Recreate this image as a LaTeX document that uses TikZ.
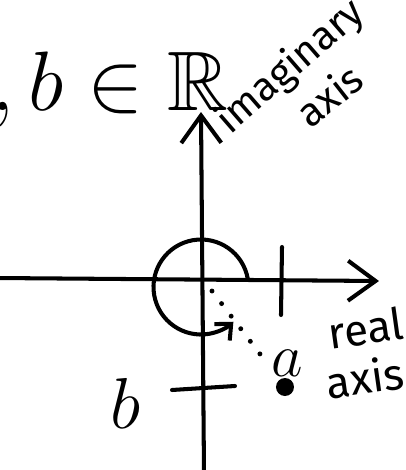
\documentclass[tikz,border=0pt]{standalone}
\usepackage{amsmath,amssymb}
\usepackage{fontspec}
\setsansfont{Fira Sans}
\usetikzlibrary{arrows.meta, positioning}

\begin{document}
\begin{tikzpicture}[line width=2.3pt, line cap=round, line join=round,
  every node/.style={inner sep=0pt},
  axisline/.style={-{Straight Barb[length=5.5mm,width=8mm,line width=2.3pt]}},
  turnarc/.style={-{Straight Barb[length=2.5mm,width=4.5mm,line width=2.3pt]}},
  handlabel/.style={font=\sffamily\fontsize{25}{27}\selectfont},
  slantlabel/.style={font=\sffamily\fontsize{23}{25}\selectfont},
  mathlabel/.style={font=\Huge}]
  \useasboundingbox (-4.02,-3.84) rectangle (4.10,5.56);

  % points of the plane
  \coordinate (O) at (0,0);
  \coordinate (imtop) at (0,3.32);
  \coordinate (imbot) at (0.06,-3.9);
  \coordinate (releft) at (-4.1,0);
  \coordinate (reright) at (3.56,-0.06);
  \coordinate (tickup) at (1.62,0.62);
  \coordinate (tickdn) at (1.6,-0.74);
  \coordinate (bleft) at (-0.58,-2.24);
  \coordinate (bright) at (0.68,-2.16);

  % axes
  \draw[axisline] (imbot) -- (imtop);
  \draw[axisline] (releft) -- (reright);

  % ticks
  \draw (tickup) -- (tickdn);
  \draw (bleft) -- (bright);

  % turning arc around the origin
  \draw[turnarc] ([shift={(0,-0.18)}]10:0.95) arc[start angle=10, end angle=313, radius=0.95];

  % the point a
  \node[circle, fill=black, minimum size=0.36cm] (apt) at (1.68,-2.18) {};
  \draw[line width=2.8pt, dash pattern=on 0pt off 9pt] ([shift={(0.22,-0.26)}]O) -- ([shift={(-0.5,0.66)}]apt.center);
  \node[mathlabel, scale=1.4] (alabel) at (1.72,-1.7) {$a$};

  % labels
  \node[mathlabel, scale=1.65] (blabel) at (-1.5,-2.5) {$b$};
  \node[handlabel, rotate=8] (realtxt) at (3.3,-1.0) {real};
  \node[handlabel, rotate=8] (axistxt) at (3.28,-1.98) {axis};
  \node[slantlabel, rotate=41] (imtxt) at (1.8,4.22) {imaginary};
  \node[slantlabel, rotate=38] (imaxis) at (2.56,3.66) {axis};
  \node[mathlabel, scale=1.93, anchor=base east] (settxt) at (0.62,3.36) {$a,b\in\mathbb{R}$};
\end{tikzpicture}
\end{document}
